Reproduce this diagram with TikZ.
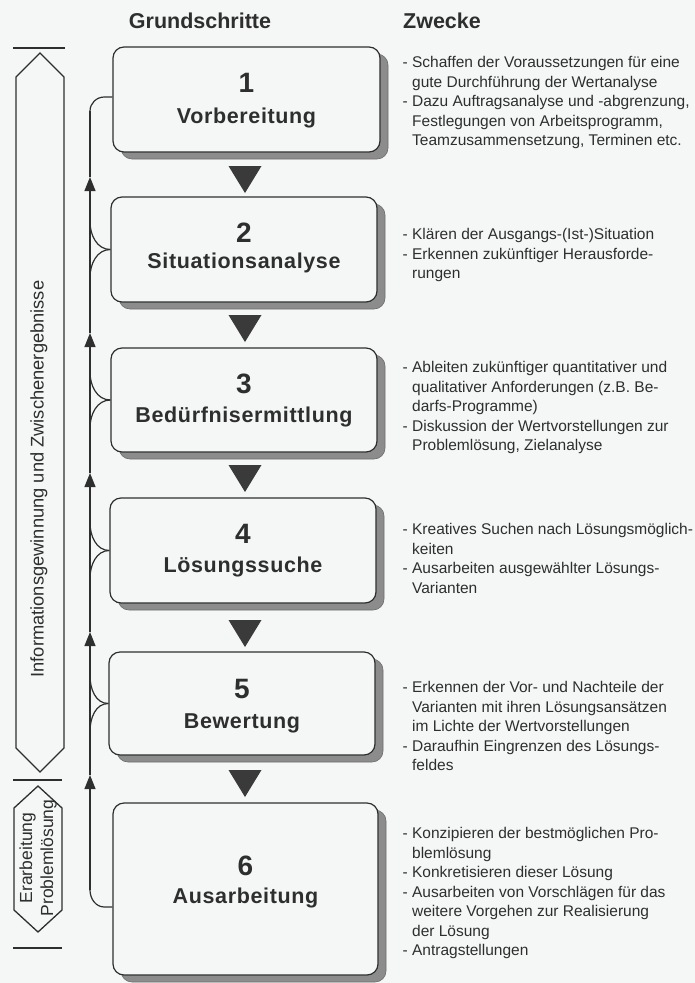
\documentclass[tikz,border=0pt]{standalone}
\usepackage{fontspec}
\setmainfont{Liberation Sans}
\newfontfamily\labfont[LetterSpace=3]{Liberation Sans}
\usetikzlibrary{arrows.meta,shadows,calc}
\definecolor{bg}{HTML}{F5F7F7}
\definecolor{ink}{HTML}{2E2E2E}
\definecolor{shade}{HTML}{8C8C8C}
\definecolor{tri}{HTML}{3A3A3A}
\newcommand\zind{\hphantom{- }}
\newcommand\zstr{\rule{0pt}{12pt}}
\begin{document}
\begin{tikzpicture}[x=1pt,y=-1pt,
  every node/.style={text=ink},
  stepbox/.style={draw=ink, line width=1.2pt, rounded corners=11pt, fill=bg, inner sep=0pt,
    drop shadow={shadow xshift=8pt, shadow yshift=-7pt, fill=shade, draw=ink!70, line width=0.6pt, opacity=1}},
  numtxt/.style={anchor=base, font=\fontsize{28}{30}\selectfont\bfseries},
  labtxt/.style={anchor=base, font=\fontsize{21.5}{24}\selectfont\labfont\bfseries},
  title/.style={font=\fontsize{21.5}{24}\selectfont\bfseries},
  purpose/.style={anchor=north west, inner sep=0pt, align=left, font=\fontsize{15.5}{19.5}\selectfont},
  sidetxt/.style={rotate=90, inner sep=0pt, align=center},
  fb/.style={draw=ink, line width=1.2pt},
  up/.style={fb, -{Triangle[width=11pt,length=14pt]}},
  side/.style={draw=ink, line width=1.3pt, line join=miter},
  flowtri/.style={fill=tri}
]
\path[fill=bg] (0,0) rectangle (695,983);
\useasboundingbox (0,0) rectangle (695,983);

% titles
\node[title] (gs) at (200,21) {Grundschritte};
\node[title] (zw) at (442,21) {Zwecke};

% boxes
\node[stepbox, minimum width=267pt, minimum height=105pt] (b1) at (246.5,99.5) {};
\node[stepbox, minimum width=266pt, minimum height=105pt] (b2) at (244,249.5) {};
\node[stepbox, minimum width=266pt, minimum height=104pt] (b3) at (244,400) {};
\node[stepbox, minimum width=266pt, minimum height=105pt] (b4) at (243,550.5) {};
\node[stepbox, minimum width=266pt, minimum height=103pt] (b5) at (242,703.5) {};
\node[stepbox, minimum width=265pt, minimum height=172pt] (b6) at (245.5,889) {};

\node[numtxt] (n1) at (246.5,92) {1};
\node[labtxt] (l1) at (246.5,123) {Vorbereitung};
\node[numtxt] (n2) at (244,242) {2};
\node[labtxt] (l2) at (244,268) {Situationsanalyse};
\node[numtxt] (n3) at (244,393) {3};
\node[labtxt] (l3) at (244,422) {Bedürfnisermittlung};
\node[numtxt] (n4) at (243,543) {4};
\node[labtxt] (l4) at (243,572) {Lösungssuche};
\node[numtxt] (n5) at (242,698) {5};
\node[labtxt] (l5) at (242,728) {Bewertung};
\node[numtxt] (n6) at (245.5,875) {6};
\node[labtxt] (l6) at (245.5,903) {Ausarbeitung};

% flow triangles
\foreach \t in {166,315,465,620,770}
  \fill[flowtri] (228.5,\t) -- (261.5,\t) -- (245,\t+27) -- cycle;

% feedback trunk
\coordinate (tTop) at (90,111);
\coordinate (a1) at (90,177);
\coordinate (a2) at (90,333);
\coordinate (a3) at (90,473);
\coordinate (a4) at (90,632);
\coordinate (a5) at (90,775);
\coordinate (tBot) at (90,890);
\draw[fb] (a1) -- (tTop);
\draw[up] (a2) -- (a1);
\draw[up] (a3) -- (a2);
\draw[up] (a4) -- (a3);
\draw[up] (a5) -- (a4);
\draw[up] (tBot) -- (a5);

\draw[fb] ($(b1.west)+(0,-2.5)$) -- ++(-8,0) to[out=180,in=90] (tTop);
\foreach \b in {b2,b3,b4,b5}{
  \draw[fb] (\b.west) to[out=180,in=-90] ($(90,0 |- \b.west)+(0,-28)$);
  \draw[fb] (\b.west) to[out=180,in=90] ($(90,0 |- \b.west)+(0,28)$);
}
\draw[fb] ($(b6.west)+(0,18)$) -- ++(-8,0) to[out=180,in=-90] (tBot);

% side brackets
\draw[side] (13,48) -- (65,48);
\draw[side] (40,53) -- (64,77) -- (64,748) -- (40,772) -- (16,748) -- (16,77) -- cycle;
\draw[side] (13,780) -- (62,780);
\draw[side] (38,786) -- (62,808) -- (62,910) -- (38,932) -- (14,910) -- (14,808) -- cycle;
\draw[side] (13,948) -- (62,948);

\node[sidetxt, font=\fontsize{18.3}{20}\selectfont] (info) at (39,479) {Informationsgewinnung und Zwischenergebnisse};
\node[sidetxt, font=\fontsize{17.5}{21}\selectfont] (erar) at (38,858) {Erarbeitung\\Problemlösung};

% purposes
\node[purpose] (p1) at (402.5,55.5) {\zstr- Schaffen der Voraussetzungen für eine\\\zind gute Durchführung der Wertanalyse\\- Dazu Auftragsanalyse und -abgrenzung,\\\zind Festlegungen von Arbeitsprogramm,\\\zind Teamzusammensetzung, Terminen etc.};
\node[purpose] (p2) at (402.5,227.5) {\zstr- Klären der Ausgangs-(Ist-)Situation\\- Erkennen zukünftiger Herausforde-\\\zind rungen};
\node[purpose] (p3) at (402.5,360.5) {\zstr- Ableiten zukünftiger quantitativer und\\\zind qualitativer Anforderungen (z.B. Be-\\\zind darfs-Programme)\\- Diskussion der Wertvorstellungen zur\\\zind Problemlösung, Zielanalyse};
\node[purpose] (p4) at (402.5,522.5) {\zstr- Kreatives Suchen nach Lösungsmöglich-\\\zind keiten\\- Ausarbeiten ausgewählter Lösungs-\\\zind Varianten};
\node[purpose] (p5) at (402.5,680.5) {\zstr- Erkennen der Vor- und Nachteile der\\\zind Varianten mit ihren Lösungsansätzen\\\zind im Lichte der Wertvorstellungen\\- Daraufhin Eingrenzen des Lösungs-\\\zind feldes};
\node[purpose] (p6) at (402.5,826.5) {\zstr- Konzipieren der bestmöglichen Pro-\\\zind blemlösung\\- Konkretisieren dieser Lösung\\- Ausarbeiten von Vorschlägen für das\\\zind weitere Vorgehen zur Realisierung\\\zind der Lösung\\- Antragstellungen};
\end{tikzpicture}
\end{document}
